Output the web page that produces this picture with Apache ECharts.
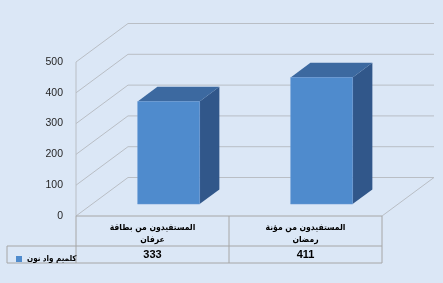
<!DOCTYPE html>
<html><head><meta charset="utf-8">
<script src="https://cdn.jsdelivr.net/npm/echarts@6/dist/echarts.min.js"></script>
<style>html,body{margin:0;padding:0;background:#dbe7f6;}#c{width:443px;height:283px;}</style>
</head><body><div id="c"></div>
<script>
const categories = ['المستفيدون من بطاقة\nعرفان', 'المستفيدون من مؤنة\nرمضان'];
const seriesName = 'كلميم واد نون';
const values = [333, 411];
const yTicks = [0, 100, 200, 300, 400, 500];

const DEPTH = [52, -38.5];
const FRONT = 0.31, BACK = 0.69;
const gridCol = '#b9bec5';
const tableCol = '#a6a6a6';
const chart = echarts.init(document.getElementById('c'), null, {renderer: 'canvas'});

function wallItem(params, api) {
  const cs = params.coordSys;
  const v = api.value(0);
  const y = api.coord([0, v])[1];
  const L = cs.x, R = cs.x + cs.width;
  const children = [{
    type: 'polyline',
    shape: {points: [[L, y], [L + DEPTH[0], y + DEPTH[1]], [R + DEPTH[0], y + DEPTH[1]]]},
    style: {stroke: gridCol, lineWidth: 1, fill: null}
  }];
  if (v === 0) {
    children.push({type: 'line', shape: {x1: R + DEPTH[0], y1: y + DEPTH[1], x2: R, y2: y}, style: {stroke: gridCol, lineWidth: 1}});
    const top = api.coord([0, 500])[1];
    children.push({type: 'line', shape: {x1: L, y1: top, x2: L, y2: y}, style: {stroke: gridCol, lineWidth: 1}});
    const mid = api.coord([0, 0])[0] + api.size([1, 0])[0] / 2;
    const r1 = y + 30, r2 = y + 47, legL = 7;
    const ls = {stroke: tableCol, lineWidth: 1};
    children.push({type: 'line', shape: {x1: L, y1: y, x2: R, y2: y}, style: ls});
    children.push({type: 'line', shape: {x1: legL, y1: r1, x2: R, y2: r1}, style: ls});
    children.push({type: 'line', shape: {x1: legL, y1: r2, x2: R, y2: r2}, style: ls});
    children.push({type: 'line', shape: {x1: L, y1: y, x2: L, y2: r2}, style: ls});
    children.push({type: 'line', shape: {x1: mid, y1: y, x2: mid, y2: r2}, style: ls});
    children.push({type: 'line', shape: {x1: R, y1: y, x2: R, y2: r2}, style: ls});
    children.push({type: 'line', shape: {x1: legL, y1: r1, x2: legL, y2: r2}, style: ls});
  }
  return {type: 'group', children: children, silent: true};
}

function barItem(params, api) {
  const idx = api.value(0), val = api.value(1);
  const base = api.coord([idx, 0]);
  const top = api.coord([idx, val]);
  const w = api.size([1, 0])[0] * 0.405;
  const xl = base[0] - w / 2, xr = base[0] + w / 2;
  const fx = DEPTH[0] * FRONT, fy = DEPTH[1] * FRONT;
  const bx = DEPTH[0] * BACK, by = DEPTH[1] * BACK;
  return {type: 'group', children: [
    {type: 'polygon', shape: {points: [[xr + fx, top[1] + fy], [xr + bx, top[1] + by], [xr + bx, base[1] + by], [xr + fx, base[1] + fy]]},
      style: {fill: '#31578a'}},
    {type: 'polygon', shape: {points: [[xl + fx, top[1] + fy], [xr + fx, top[1] + fy], [xr + bx, top[1] + by], [xl + bx, top[1] + by]]},
      style: {fill: '#3c69a0'}},
    {type: 'rect', shape: {x: xl + fx, y: top[1] + fy, width: w, height: base[1] - top[1]},
      style: {fill: '#4f8bcd', stroke: '#6a9bd6', lineWidth: 0.5}}
  ]};
}

chart.setOption({
  backgroundColor: '#dbe7f6',
  animation: false,
  textStyle: {fontFamily: 'Liberation Sans, DejaVu Sans, sans-serif'},
  grid: {left: 76, right: 61, top: 62, bottom: 67},
  legend: {
    data: [{name: seriesName, icon: 'rect'}],
    left: 11, top: 250, itemWidth: 6, itemHeight: 6, itemGap: 4,
    textStyle: {fontSize: 8, fontWeight: 'bold', color: '#000', fontFamily: 'DejaVu Sans Condensed, DejaVu Sans'}
  },
  xAxis: [{
    type: 'category', data: categories,
    axisLine: {show: false}, axisTick: {show: false},
    axisLabel: {interval: 0, margin: 6, fontSize: 8.5, fontWeight: 'bold', color: '#000', lineHeight: 12, fontFamily: 'DejaVu Sans Condensed, DejaVu Sans'}
  }, {
    type: 'category', data: categories, position: 'bottom',
    axisLine: {show: false}, axisTick: {show: false},
    axisLabel: {interval: 0, margin: 33, fontSize: 11, fontWeight: 'bold', color: '#000',
      formatter: (v, i) => String(values[i])}
  }],
  yAxis: {
    type: 'value', min: 0, max: 500, interval: 100,
    axisLine: {show: false}, axisTick: {show: false}, splitLine: {show: false},
    axisLabel: {fontSize: 10.5, color: '#262626', margin: 13}
  },
  series: [{
    type: 'custom', name: 'walls', renderItem: wallItem,
    data: yTicks.map(v => [v]), encode: {y: 0}, silent: true, z: 1
  }, {
    type: 'custom', name: seriesName, renderItem: barItem,
    itemStyle: {color: '#4f8bcd'},
    data: values.map((v, i) => [i, v]), encode: {x: 0, y: 1}, z: 2
  }]
});
</script></body></html>
